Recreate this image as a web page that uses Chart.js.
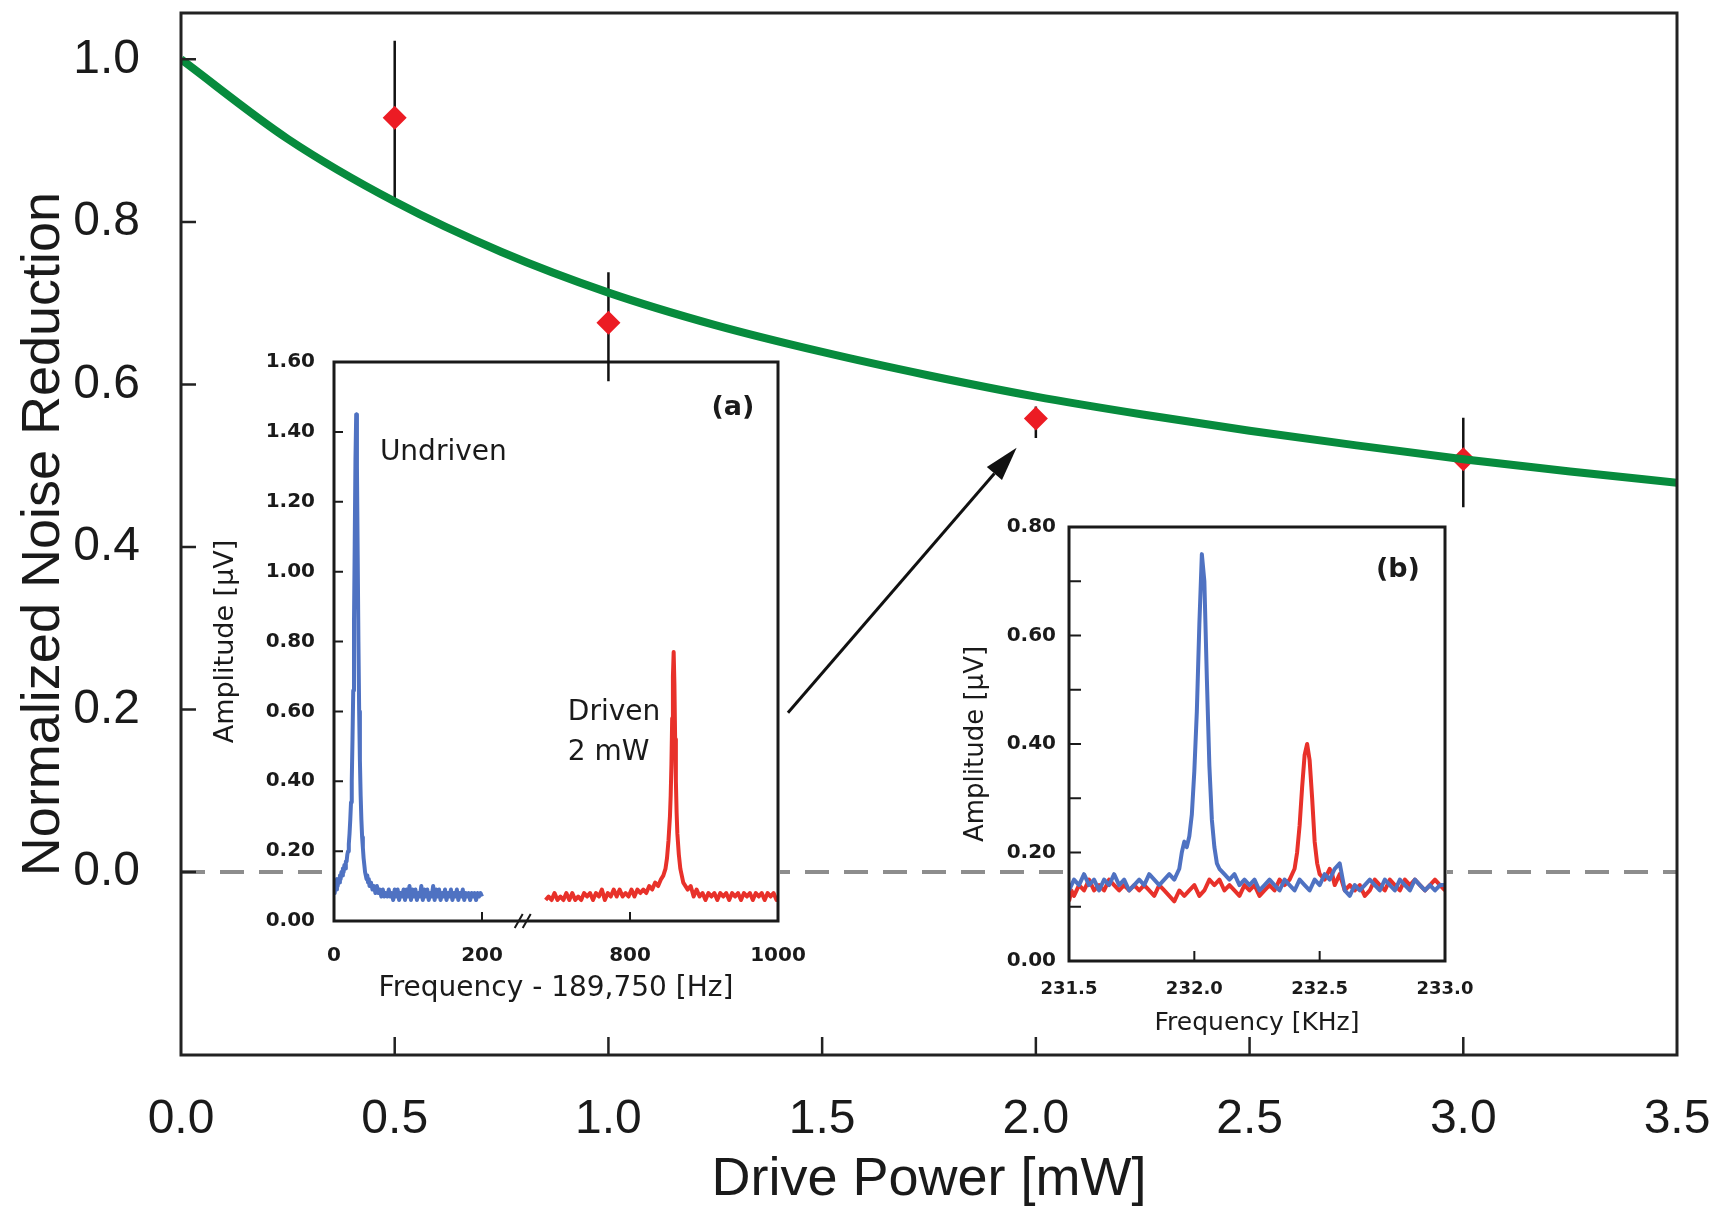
<!DOCTYPE html>
<html>
<head>
<meta charset="utf-8">
<script src="https://cdn.jsdelivr.net/npm/chart.js@4"></script>
<style>
  html, body { margin: 0; background: #fff; }
  #stage { position: relative; width: 1719px; height: 1210px; }
  #stage canvas { position: absolute; }
</style>
</head>
<body>
<div id="stage">
  <canvas id="insetA" width="620" height="665"></canvas>
  <canvas id="insetB" width="535" height="540"></canvas>
  <canvas id="mainChart" width="1719" height="1210"></canvas>
</div>
<script>
// ---- main panel: noise reduction vs drive power ----
const powerTicks = [0, 0.5, 1.0, 1.5, 2.0, 2.5, 3.0, 3.5];
const reductionTicks = [0, 0.2, 0.4, 0.6, 0.8, 1.0];
const fitPower = [0, 0.25, 0.5, 0.75, 1.0, 1.25, 1.5, 1.75, 2.0, 2.25, 2.5, 2.75, 3.0, 3.25, 3.5];
const fitReduction = [1.0, 0.902, 0.825, 0.763, 0.713, 0.673, 0.640, 0.611, 0.585, 0.563, 0.543, 0.525, 0.508, 0.493, 0.479];
const measPower = [0.5, 1.0, 2.0, 3.0];
const measReduction = [0.928, 0.676, 0.558, 0.508];
const measLow = [0.826, 0.604, 0.534, 0.449];
const measHigh = [1.023, 0.738, 0.573, 0.559];
const arrowFrom = [1.42, 0.196];
const arrowTo = [1.955, 0.522];

// ---- inset (a): spectra, broken frequency axis 0-200 | 800-1000 Hz ----
const freqTicksA = [0, 200, 800, 1000];
const ampTicksA = [0, 0.2, 0.4, 0.6, 0.8, 1.0, 1.2, 1.4, 1.6];
const hzGap = 400; // frequencies past the axis break are drawn shifted left by this much
const undrivenHz = [0, 1, 2, 3, 4, 5, 6, 7, 8, 9, 10, 11, 12, 13, 14, 15, 16, 17, 18, 19, 20, 21, 22, 23, 24, 25, 26, 27, 28, 29, 30, 31, 32, 33, 34, 35, 36, 37, 38, 39, 40, 41, 42, 43, 44, 45, 46, 47, 48, 50, 52, 54, 56, 58, 60, 62, 64, 66, 68, 70, 72, 74, 76, 78, 80, 82, 84, 86, 88, 90, 92, 94, 96, 98, 100, 102, 104, 106, 108, 110, 112, 114, 116, 118, 120, 122, 124, 126, 128, 130, 132, 134, 136, 138, 140, 142, 144, 146, 148, 150, 152, 154, 156, 158, 160, 162, 164, 166, 168, 170, 172, 174, 176, 178, 180, 182, 184, 186, 188, 190, 192, 194, 196, 198, 200];
const undrivenAmp = [0.10, 0.08, 0.11, 0.09, 0.12, 0.10, 0.12, 0.11, 0.13, 0.12, 0.14, 0.13, 0.15, 0.14, 0.16, 0.15, 0.17, 0.17, 0.19, 0.20, 0.22, 0.25, 0.29, 0.34, 0.40, 0.52, 0.66, 0.85, 1.08, 1.32, 1.45, 1.30, 1.05, 0.80, 0.60, 0.46, 0.36, 0.29, 0.24, 0.21, 0.18, 0.16, 0.14, 0.14, 0.12, 0.13, 0.11, 0.12, 0.10, 0.11, 0.09, 0.10, 0.08, 0.10, 0.08, 0.09, 0.07, 0.09, 0.07, 0.08, 0.07, 0.09, 0.07, 0.08, 0.06, 0.09, 0.07, 0.09, 0.06, 0.08, 0.07, 0.09, 0.06, 0.09, 0.07, 0.10, 0.06, 0.09, 0.07, 0.09, 0.06, 0.08, 0.07, 0.10, 0.06, 0.09, 0.07, 0.09, 0.06, 0.08, 0.07, 0.10, 0.06, 0.09, 0.07, 0.09, 0.06, 0.08, 0.07, 0.09, 0.06, 0.08, 0.07, 0.09, 0.06, 0.08, 0.07, 0.09, 0.06, 0.08, 0.07, 0.09, 0.06, 0.08, 0.07, 0.08, 0.06, 0.08, 0.07, 0.08, 0.06, 0.08, 0.07, 0.08, 0.07];
const drivenHz = [686, 690, 694, 698, 702, 706, 710, 714, 718, 722, 726, 730, 734, 738, 742, 746, 750, 754, 758, 762, 766, 770, 774, 778, 782, 786, 790, 794, 798, 802, 806, 810, 814, 818, 822, 826, 830, 834, 838, 842, 845, 848, 850, 852, 854, 855, 856, 857, 858, 859, 860, 861, 862, 863, 864, 866, 868, 870, 872, 875, 878, 882, 886, 890, 894, 898, 902, 906, 910, 914, 918, 922, 926, 930, 934, 938, 942, 946, 950, 954, 958, 962, 966, 970, 974, 978, 982, 986, 990, 994, 998, 1000];
const drivenAmp = [0.06, 0.07, 0.06, 0.08, 0.06, 0.07, 0.06, 0.08, 0.06, 0.08, 0.06, 0.07, 0.06, 0.08, 0.07, 0.08, 0.06, 0.08, 0.07, 0.09, 0.06, 0.08, 0.07, 0.09, 0.07, 0.09, 0.07, 0.08, 0.07, 0.09, 0.07, 0.09, 0.08, 0.09, 0.08, 0.10, 0.09, 0.11, 0.10, 0.12, 0.13, 0.15, 0.18, 0.23, 0.30, 0.36, 0.45, 0.58, 0.70, 0.77, 0.68, 0.52, 0.40, 0.31, 0.25, 0.19, 0.15, 0.13, 0.11, 0.10, 0.09, 0.10, 0.07, 0.09, 0.07, 0.08, 0.06, 0.08, 0.07, 0.08, 0.06, 0.08, 0.07, 0.08, 0.06, 0.08, 0.07, 0.08, 0.06, 0.08, 0.07, 0.08, 0.06, 0.08, 0.07, 0.08, 0.06, 0.08, 0.07, 0.08, 0.06, 0.07];

// ---- inset (b): spectra around 232 kHz ----
const freqTicksB = [231.5, 232.0, 232.5, 233.0];
const ampTicksB = [0, 0.2, 0.4, 0.6, 0.8];
const ampMinorB = [0.1, 0.2, 0.3, 0.4, 0.5, 0.6, 0.7];
const blueKHz = [231.50, 231.52, 231.54, 231.56, 231.58, 231.60, 231.62, 231.64, 231.66, 231.68, 231.70, 231.72, 231.74, 231.76, 231.78, 231.80, 231.82, 231.84, 231.86, 231.88, 231.90, 231.92, 231.94, 231.95, 231.96, 231.97, 231.98, 231.99, 232.00, 232.01, 232.02, 232.03, 232.04, 232.05, 232.06, 232.07, 232.08, 232.09, 232.10, 232.12, 232.14, 232.16, 232.18, 232.20, 232.22, 232.24, 232.26, 232.28, 232.30, 232.32, 232.34, 232.36, 232.38, 232.40, 232.42, 232.44, 232.46, 232.48, 232.50, 232.52, 232.54, 232.56, 232.58, 232.60, 232.62, 232.64, 232.66, 232.68, 232.70, 232.72, 232.74, 232.76, 232.78, 232.80, 232.82, 232.84, 232.86, 232.88, 232.90, 232.92, 232.94, 232.96, 232.98, 233.00];
const blueAmp = [0.13, 0.15, 0.14, 0.16, 0.14, 0.15, 0.13, 0.15, 0.14, 0.16, 0.14, 0.15, 0.13, 0.14, 0.15, 0.14, 0.16, 0.15, 0.14, 0.15, 0.16, 0.15, 0.17, 0.20, 0.22, 0.21, 0.23, 0.27, 0.35, 0.46, 0.62, 0.75, 0.70, 0.52, 0.36, 0.26, 0.21, 0.18, 0.17, 0.16, 0.15, 0.16, 0.14, 0.15, 0.14, 0.15, 0.13, 0.14, 0.15, 0.14, 0.13, 0.15, 0.14, 0.13, 0.15, 0.14, 0.13, 0.15, 0.14, 0.16, 0.15, 0.17, 0.18, 0.13, 0.12, 0.14, 0.13, 0.14, 0.15, 0.14, 0.13, 0.15, 0.14, 0.13, 0.15, 0.14, 0.13, 0.15, 0.14, 0.13, 0.14, 0.13, 0.14, 0.14];
const redKHz = [231.50, 231.51, 231.52, 231.54, 231.56, 231.58, 231.60, 231.62, 231.64, 231.66, 231.68, 231.70, 231.72, 231.74, 231.76, 231.78, 231.80, 231.82, 231.84, 231.86, 231.88, 231.90, 231.92, 231.94, 231.96, 231.98, 232.00, 232.02, 232.04, 232.06, 232.08, 232.10, 232.12, 232.14, 232.16, 232.18, 232.20, 232.22, 232.24, 232.26, 232.28, 232.30, 232.32, 232.34, 232.36, 232.38, 232.40, 232.41, 232.42, 232.43, 232.44, 232.45, 232.46, 232.47, 232.48, 232.49, 232.50, 232.52, 232.54, 232.55, 232.56, 232.58, 232.60, 232.62, 232.64, 232.66, 232.68, 232.70, 232.72, 232.74, 232.76, 232.78, 232.80, 232.82, 232.84, 232.86, 232.88, 232.90, 232.92, 232.94, 232.96, 232.98, 233.00];
const redAmp = [0.11, 0.13, 0.12, 0.14, 0.13, 0.15, 0.13, 0.14, 0.13, 0.15, 0.14, 0.13, 0.14, 0.13, 0.14, 0.13, 0.14, 0.13, 0.12, 0.14, 0.13, 0.12, 0.11, 0.13, 0.12, 0.13, 0.14, 0.12, 0.13, 0.15, 0.14, 0.15, 0.13, 0.14, 0.13, 0.12, 0.14, 0.13, 0.14, 0.12, 0.13, 0.14, 0.13, 0.15, 0.14, 0.15, 0.17, 0.20, 0.25, 0.32, 0.38, 0.40, 0.37, 0.30, 0.22, 0.18, 0.16, 0.15, 0.17, 0.16, 0.14, 0.16, 0.13, 0.14, 0.13, 0.14, 0.12, 0.13, 0.15, 0.14, 0.13, 0.15, 0.14, 0.13, 0.15, 0.14, 0.15, 0.14, 0.13, 0.14, 0.15, 0.14, 0.13];

const BLUE = '#4f72c2';
const RED = '#e8312a';
const INK = '#1a1a1a';
const ARIAL = "'Liberation Sans', Arial, sans-serif";
const VERDANA = "'DejaVu Sans', Verdana, sans-serif";

// where the two inset canvases sit on the page
const placeA = { left: 195, top: 345 };
const placeB = { left: 945, top: 505 };

Chart.defaults.font.family = VERDANA;
Chart.defaults.color = INK;
Chart.defaults.animation = false;

const pts = (xs, ys) => xs.map((x, i) => ({ x, y: ys[i] }));

// fixed axis box size, so the plot areas land where they should
function pinAxis(size) {
  return scale => {
    if (scale.isHorizontal()) scale.height = size; else scale.width = size;
    scale.paddingTop = scale.paddingBottom = scale.paddingLeft = scale.paddingRight = 0;
  };
}

function fixTicks(values) {
  return scale => { scale.ticks = values.map(value => ({ value })); };
}

// box frame + inward tick marks (+ optional axis-break slashes)
function makeFrame(o) {
  return {
    id: 'frame',
    afterDraw(chart) {
      const { ctx, chartArea: a, scales: { x, y } } = chart;
      ctx.save();
      ctx.strokeStyle = o.color || INK;
      ctx.lineWidth = o.tickWidth;
      ctx.beginPath();
      o.xMarks.forEach(v => {
        const px = x.getPixelForValue(v);
        ctx.moveTo(px, a.bottom);
        ctx.lineTo(px, a.bottom - o.xLen);
      });
      o.yMarks.forEach(v => {
        const py = y.getPixelForValue(v);
        ctx.moveTo(a.left, py);
        ctx.lineTo(a.left + o.yLen, py);
      });
      ctx.stroke();
      ctx.lineWidth = o.width;
      ctx.strokeRect(a.left, a.top, a.right - a.left, a.bottom - a.top);
      if (o.breakAt != null) {
        const bx = x.getPixelForValue(o.breakAt);
        ctx.lineWidth = 2;
        ctx.beginPath();
        [-4, 4].forEach(d => {
          ctx.moveTo(bx + d - 4, a.bottom + 7);
          ctx.lineTo(bx + d + 4, a.bottom - 7);
        });
        ctx.stroke();
      }
      ctx.restore();
    }
  };
}

// text notes placed in data coordinates
function makeNotes(items) {
  return {
    id: 'notes',
    afterDatasetsDraw(chart) {
      const { ctx, scales: { x, y } } = chart;
      ctx.save();
      ctx.fillStyle = INK;
      ctx.textBaseline = 'middle';
      items.forEach(n => {
        ctx.font = (n.bold ? 'bold ' : '') + n.size + 'px ' + VERDANA;
        ctx.textAlign = n.align || 'left';
        ctx.fillText(n.text, x.getPixelForValue(n.x), y.getPixelForValue(n.y));
      });
      ctx.restore();
    }
  };
}

function placeCanvas(id, place) {
  const el = document.getElementById(id);
  el.style.left = place.left + 'px';
  el.style.top = place.top + 'px';
  el.style.zIndex = 1;
  return el;
}

function traceSet(data, color) {
  return { data, showLine: true, borderColor: color, borderWidth: 4, pointRadius: 0, tension: 0, borderJoinStyle: 'round' };
}

// ---- inset (a) ----
const insetA = new Chart(placeCanvas('insetA', placeA), {
  type: 'scatter',
  data: {
    datasets: [
      traceSet(pts(undrivenHz, undrivenAmp), BLUE),
      traceSet(pts(drivenHz.map(f => f - hzGap), drivenAmp), RED)
    ]
  },
  options: {
    responsive: false,
    layout: { padding: { top: 17, right: 37, left: 0, bottom: 0 } },
    plugins: { legend: { display: false }, tooltip: { enabled: false } },
    scales: {
      x: {
        type: 'linear', min: 0, max: 1000 - hzGap,
        afterBuildTicks: fixTicks(freqTicksA.map(f => f > 200 ? f - hzGap : f)),
        afterFit: pinAxis(89),
        grid: { display: false, drawTicks: false }, border: { display: false },
        ticks: { padding: 23, font: { size: 20, weight: 'bold' }, callback: (v, i) => String(freqTicksA[i]) },
        title: { display: true, text: 'Frequency - 189,750 [Hz]', font: { size: 28, lineHeight: 1 }, padding: { top: 0, bottom: 7 } }
      },
      y: {
        type: 'linear', min: 0, max: 1.6,
        afterBuildTicks: fixTicks(ampTicksA),
        afterFit: pinAxis(139),
        grid: { display: false, drawTicks: false }, border: { display: false },
        ticks: { padding: 19, font: { size: 20, weight: 'bold' }, callback: v => v.toFixed(2) },
        title: { display: true, text: 'Amplitude [μV]', font: { size: 27, lineHeight: 1 }, padding: { top: 17, bottom: 0 } }
      }
    }
  },
  plugins: [
    makeFrame({ xMarks: [200, 800 - hzGap], yMarks: [0.2, 0.4, 0.6, 0.8, 1.0, 1.2, 1.4], xLen: 9, yLen: 9, tickWidth: 2, width: 3, breakAt: 255 }),
    makeNotes([
      { text: 'Undriven', x: 62, y: 1.34, size: 28 },
      { text: 'Driven', x: 316, y: 0.596, size: 28 },
      { text: '2 mW', x: 316, y: 0.483, size: 28 },
      { text: '(a)', x: 568, y: 1.468, size: 27, bold: true, align: 'right' }
    ])
  ]
});

// ---- inset (b) ----
const insetB = new Chart(placeCanvas('insetB', placeB), {
  type: 'scatter',
  data: {
    datasets: [
      traceSet(pts(blueKHz, blueAmp), BLUE),
      traceSet(pts(redKHz, redAmp), RED)
    ]
  },
  options: {
    responsive: false,
    layout: { padding: { top: 22, right: 35, left: 0, bottom: 0 } },
    plugins: { legend: { display: false }, tooltip: { enabled: false } },
    scales: {
      x: {
        type: 'linear', min: 231.5, max: 233.0,
        afterBuildTicks: fixTicks(freqTicksB),
        afterFit: pinAxis(84),
        grid: { display: false, drawTicks: false }, border: { display: false },
        ticks: { padding: 18, font: { size: 18, weight: 'bold' }, callback: v => v.toFixed(1) },
        title: { display: true, text: 'Frequency [KHz]', font: { size: 25, lineHeight: 1 }, padding: { top: 0, bottom: 9 } }
      },
      y: {
        type: 'linear', min: 0, max: 0.8,
        afterBuildTicks: fixTicks(ampTicksB),
        afterFit: pinAxis(124),
        grid: { display: false, drawTicks: false }, border: { display: false },
        ticks: { padding: 13, font: { size: 20, weight: 'bold' }, callback: v => v.toFixed(2) },
        title: { display: true, text: 'Amplitude [μV]', font: { size: 26, lineHeight: 1 }, padding: { top: 18, bottom: 0 } }
      }
    }
  },
  plugins: [
    makeFrame({ xMarks: [232.0, 232.5], yMarks: ampMinorB, xLen: 10, yLen: 12, tickWidth: 2, width: 3 }),
    makeNotes([{ text: '(b)', x: 232.9, y: 0.721, size: 27, bold: true, align: 'right' }])
  ]
});

// plot areas of the insets, in page pixels; the zero line is hidden behind them
const insetHoles = [[insetA, placeA], [insetB, placeB]].map(([c, p]) => ({
  left: p.left + c.chartArea.left - 2,
  top: p.top + c.chartArea.top - 2,
  right: p.left + c.chartArea.right + 2,
  bottom: p.top + c.chartArea.bottom + 2
}));

const zeroLineClip = {
  id: 'zeroLineClip',
  beforeDatasetDraw(chart, args) {
    if (args.index !== 0) return;
    const ctx = chart.ctx;
    ctx.save();
    ctx.beginPath();
    ctx.rect(0, 0, chart.width, chart.height);
    insetHoles.forEach(h => ctx.rect(h.left, h.top, h.right - h.left, h.bottom - h.top));
    ctx.clip('evenodd');
  },
  afterDatasetDraw(chart, args) {
    if (args.index === 0) chart.ctx.restore();
  }
};

// vertical error bars under the diamonds
const errorBars = {
  id: 'errorBars',
  beforeDatasetDraw(chart, args) {
    if (args.index !== 2) return;
    const { ctx, scales: { x, y } } = chart;
    ctx.save();
    ctx.strokeStyle = '#111';
    ctx.lineWidth = 2.5;
    ctx.beginPath();
    measPower.forEach((p, i) => {
      const px = x.getPixelForValue(p);
      ctx.moveTo(px, y.getPixelForValue(measLow[i]));
      ctx.lineTo(px, y.getPixelForValue(measHigh[i]));
    });
    ctx.stroke();
    ctx.restore();
  }
};

const arrow = {
  id: 'arrow',
  afterDatasetsDraw(chart) {
    const { ctx, scales: { x, y } } = chart;
    const x0 = x.getPixelForValue(arrowFrom[0]), y0 = y.getPixelForValue(arrowFrom[1]);
    const x1 = x.getPixelForValue(arrowTo[0]), y1 = y.getPixelForValue(arrowTo[1]);
    const ang = Math.atan2(y1 - y0, x1 - x0);
    const c = Math.cos(ang), s = Math.sin(ang);
    const head = 34, half = 10;
    ctx.save();
    ctx.strokeStyle = ctx.fillStyle = '#111';
    ctx.lineWidth = 3;
    ctx.beginPath();
    ctx.moveTo(x0, y0);
    ctx.lineTo(x1 - head * c, y1 - head * s);
    ctx.stroke();
    ctx.beginPath();
    ctx.moveTo(x1, y1);
    ctx.lineTo(x1 - head * c + half * s, y1 - head * s - half * c);
    ctx.lineTo(x1 - head * c - half * s, y1 - head * s + half * c);
    ctx.closePath();
    ctx.fill();
    ctx.restore();
  }
};

// ---- main chart, on top of the insets ----
const mainEl = document.getElementById('mainChart');
mainEl.style.left = '0px';
mainEl.style.top = '0px';
mainEl.style.zIndex = 2;

new Chart(mainEl, {
  type: 'scatter',
  data: {
    datasets: [
      { data: pts([0, 3.5], [0, 0]), showLine: true, borderColor: '#8d8d8d', borderWidth: 4, borderDash: [24, 15], pointRadius: 0 },
      { data: pts(fitPower, fitReduction), showLine: true, borderColor: '#078b3d', borderWidth: 8, pointRadius: 0, cubicInterpolationMode: 'monotone' },
      { data: pts(measPower, measReduction), pointStyle: 'rectRot', pointRadius: 12, backgroundColor: '#ec1c24', borderWidth: 0 }
    ]
  },
  options: {
    responsive: false,
    layout: { padding: { top: 13, right: 42, left: 0, bottom: 0 } },
    plugins: { legend: { display: false }, tooltip: { enabled: false } },
    scales: {
      x: {
        type: 'linear', min: 0, max: 3.5,
        afterBuildTicks: fixTicks(powerTicks),
        afterFit: pinAxis(155),
        grid: { display: false, drawTicks: false }, border: { display: false },
        ticks: { padding: 36, font: { size: 48, family: ARIAL }, color: INK, callback: v => v.toFixed(1) },
        title: { display: true, text: 'Drive Power [mW]', font: { size: 54, family: ARIAL, lineHeight: 1 }, padding: { top: 0, bottom: 3 } }
      },
      y: {
        type: 'linear', min: -0.225, max: 1.057,
        afterBuildTicks: fixTicks(reductionTicks),
        afterFit: pinAxis(181),
        grid: { display: false, drawTicks: false }, border: { display: false },
        ticks: { padding: 41, font: { size: 48, family: ARIAL }, color: INK, callback: v => v.toFixed(1) },
        title: { display: true, text: 'Normalized Noise Reduction', font: { size: 54, family: ARIAL, lineHeight: 1 }, padding: { top: 17, bottom: 0 } }
      }
    }
  },
  plugins: [
    zeroLineClip,
    errorBars,
    arrow,
    makeFrame({ xMarks: [0.5, 1.0, 1.5, 2.0, 2.5, 3.0], yMarks: reductionTicks, xLen: 18, yLen: 15, tickWidth: 2.5, width: 3, color: '#222' })
  ]
});
</script>
</body>
</html>
